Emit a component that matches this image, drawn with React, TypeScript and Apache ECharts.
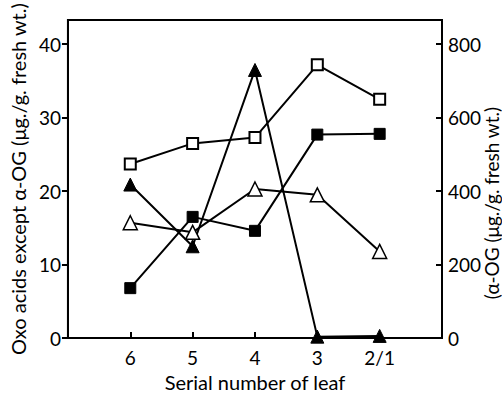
import React, { useEffect, useRef } from "react";
import * as echarts from "echarts";

const categories = ["6", "5", "4", "3", "2/1"];
const alphaOG = [474, 530, 546, 744, 650]; // open squares, right axis
const filledSquares = [6.8, 16.5, 14.6, 27.7, 27.8];
const filledTriangles = [20.9, 12.5, 36.5, 0.2, 0.3];
const openTriangles = [15.7, 14.4, 20.3, 19.5, 11.8];
const leftTicks = [0, 10, 20, 30, 40];
const rightTicks = [0, 200, 400, 600, 800];
const rightTitle = "(α-OG (μg./g. fresh wt.)";

const FONT = "Lato, 'Open Sans', sans-serif";

export default function App() {
  const ref = useRef<HTMLDivElement>(null);
  useEffect(() => {
    const chart = echarts.init(ref.current!, null, { renderer: "svg" });
    const pts = (arr: number[]) => arr.map((v, i) => [i + 1, v]);
    const common = {
      type: "line",
      lineStyle: { color: "#000", width: 2 },
      symbolSize: 11,
      z: 3,
    };
    chart.setOption({
      animation: false,
      backgroundColor: "#fff",
      grid: { left: 62, right: 60, top: 20, bottom: 49, show: true, borderColor: "#000", borderWidth: 2 },
      graphic: [
        {
          type: "text",
          x: 491,
          y: 203,
          rotation: Math.PI / 2,
          style: {
            text: rightTitle,
            fill: "#000",
            fontSize: 19,
            fontFamily: FONT,
            textAlign: "center",
            textVerticalAlign: "middle",
          },
        },
      ],
      xAxis: {
        type: "value",
        min: 0,
        max: 6,
        interval: 1,
        name: "Serial number of leaf",
        nameLocation: "middle",
        nameGap: 29,
        nameTextStyle: { color: "#000", fontSize: 20, fontFamily: FONT },
        axisLine: { show: true, lineStyle: { color: "#000", width: 2 } },
        axisTick: { show: true, inside: true, length: 6, customValues: [1, 2, 3, 4, 5], lineStyle: { color: "#000", width: 2 } },
        axisLabel: {
          customValues: [1, 2, 3, 4, 5],
          formatter: (v: number) => categories[v - 1] ?? "",
          color: "#000",
          fontSize: 19,
          fontFamily: FONT,
          margin: 10,
        },
        splitLine: { show: false },
      },
      yAxis: [
        {
          type: "value",
          min: 0,
          max: 43.3,
          position: "left",
          name: "Oxo acids except α-OG (μg./g. fresh wt.)",
          nameLocation: "middle",
          nameGap: 32,
          nameTextStyle: { color: "#000", fontSize: 20, fontFamily: FONT },
          axisLine: { show: true, lineStyle: { color: "#000", width: 2 } },
          axisTick: { show: true, length: 6, customValues: leftTicks, lineStyle: { color: "#000", width: 2 } },
          axisLabel: { customValues: leftTicks, color: "#000", fontSize: 19, fontFamily: FONT, margin: 7 },
          splitLine: { show: false },
        },
        {
          type: "value",
          min: 0,
          max: 866,
          position: "right",
          axisLine: { show: true, lineStyle: { color: "#000", width: 2 } },
          axisTick: { show: true, inside: true, length: 6, customValues: rightTicks, lineStyle: { color: "#000", width: 2 } },
          axisLabel: { customValues: rightTicks, color: "#000", fontSize: 19, fontFamily: FONT, margin: 6 },
          splitLine: { show: false },
        },
      ],
      series: [
        { ...common, name: "α-OG", yAxisIndex: 1, data: pts(alphaOG), symbol: "rect", itemStyle: { color: "#fff", borderColor: "#000", borderWidth: 2 } },
        { ...common, name: "filled squares", yAxisIndex: 0, data: pts(filledSquares), symbol: "rect", itemStyle: { color: "#000", borderColor: "#000" } },
        { ...common, name: "filled triangles", yAxisIndex: 0, data: pts(filledTriangles), symbol: "triangle", symbolSize: 13, itemStyle: { color: "#000", borderColor: "#000" } },
        { ...common, name: "open triangles", yAxisIndex: 0, data: pts(openTriangles), symbol: "triangle", symbolSize: 14, itemStyle: { color: "#fff", borderColor: "#000", borderWidth: 1.5 } },
      ],
    });
    return () => chart.dispose();
  }, []);
  return <div ref={ref} style={{ width: 502, height: 397, position: "absolute", left: 0, top: 0 }} />;
}
